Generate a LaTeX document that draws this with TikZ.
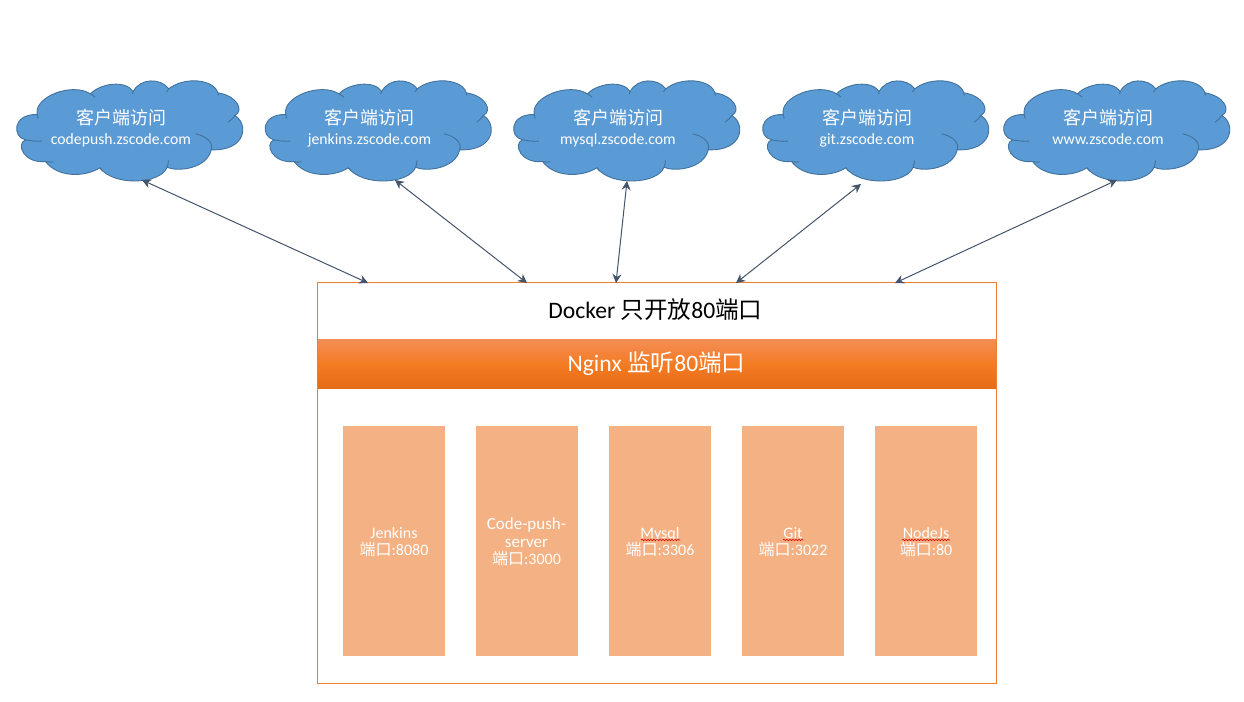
\documentclass[tikz,border=0pt]{standalone}
\usepackage{fontspec}
\usetikzlibrary{arrows.meta,decorations.pathmorphing}
\setmainfont{Carlito}
\newfontfamily\cjk{Noto Sans CJK SC}
\definecolor{cloudfill}{HTML}{5B9BD5}
\definecolor{cloudline}{HTML}{41719C}
\definecolor{linkcol}{HTML}{44546A}
\definecolor{framecol}{HTML}{ED7D31}
\definecolor{boxcol}{HTML}{F4B183}
\definecolor{bandtop}{HTML}{F48D55}
\definecolor{bandmid}{HTML}{F47B22}
\definecolor{bandbot}{HTML}{E46C17}
\tikzset{
  cloudshape/.style={fill=cloudfill,draw=cloudline,line width=.9pt,line join=round},
  cloudinner/.style={draw=cloudline,line width=.9pt},
  cloudtext/.style={text=white,inner sep=0pt,align=center,font=\fontsize{15.7}{18}\selectfont},
  link/.style={draw=linkcol,line width=1pt,{Stealth[length=9pt,width=9pt]}-{Stealth[length=9pt,width=9pt]}},
  frame/.style={fill=white,minimum width=678.6pt,minimum height=400.6pt,inner sep=0pt,anchor=north west},
  frameline/.style={draw=framecol,line width=.8pt},
  headtext/.style={inner sep=0pt,font=\fontsize{23.6}{28}\selectfont},
  band/.style={minimum width=678.6pt,minimum height=49pt,inner sep=0pt,anchor=north west,
    top color=bandtop,bottom color=bandbot,middle color=bandmid},
  portbox/.style={fill=boxcol,minimum width=102pt,minimum height=230pt,inner sep=0pt,anchor=north west},
  boxtext/.style={text=white,inner sep=0pt,align=center,font=\fontsize{16}{17.6}\selectfont},
  squiggle/.style={draw=red!85!black,line width=.6pt,decorate,decoration={snake,amplitude=.7pt,segment length=3pt}}
}
\newcommand{\cloudat}[3]{%
  \begin{scope}[shift={(#1,0)}]
    \begin{scope}[shift={(0.5,60.5)},x=0.3333pt,y=-0.3333pt]
      \draw[cloudshape] (110,162)
        .. controls (100,108) and (215,65) .. (270,100)
        .. controls (300,68) and (375,58) .. (398,93)
        .. controls (420,52) and (480,52) .. (505,85)
        .. controls (550,48) and (640,55) .. (652,97)
        .. controls (708,105) and (733,150) .. (703,165)
        .. controls (745,190) and (738,272) .. (632,268)
        .. controls (620,325) and (530,335) .. (500,320)
        .. controls (480,372) and (340,378) .. (298,322)
        .. controls (250,352) and (170,350) .. (135,303)
        .. controls (70,310) and (45,250) .. (75,238)
        .. controls (35,230) and (35,160) .. (110,162) -- cycle;
      \draw[cloudinner] (110,162) .. controls (110,166) and (111,170) .. (113,174);
      \draw[cloudinner] (75,238) .. controls (90,241) and (108,243) .. (124,242);
      \draw[cloudinner] (135,303) .. controls (142,305) and (150,306) .. (158,304);
      \draw[cloudinner] (298,322) .. controls (301,326) and (303,328) .. (306,331);
      \draw[cloudinner] (500,320) .. controls (502,313) and (504,307) .. (504,300);
      \draw[cloudinner] (585,220) .. controls (615,226) and (640,245) .. (632,268);
      \draw[cloudinner] (703,165) .. controls (698,172) and (692,180) .. (683,185);
      \draw[cloudinner] (652,97) .. controls (653,100) and (654,102) .. (654,105);
      \draw[cloudinner] (505,85) .. controls (502,88) and (500,90) .. (498,94);
      \draw[cloudinner] (398,93) .. controls (397,95) and (396,98) .. (396,101);
      \draw[cloudinner] (270,100) .. controls (275,103) and (280,106) .. (284,110);
    \end{scope}
    \node[cloudtext,font=\fontsize{18}{20}\selectfont\cjk] (#2a) at (121,118) {客户端访问};
    \node[cloudtext,anchor=base] (#2b) at (121,144) {#3};
  \end{scope}}
\begin{document}
\begin{tikzpicture}[x=1pt,y=-1pt]
  \useasboundingbox (0,0) rectangle (1244,701);
  \node[frame] (frameBox) at (317.5,282.5) {};
  \node[headtext] (dockerT) at (655.5,310) {Docker {\cjk 只开放}80{\cjk 端口}};
  \node[band] (nginxB) at (317.5,339.5) {};
  \node[headtext,text=white] (nginxT) at (656.5,364) {Nginx {\cjk 监听}80{\cjk 端口}};
  \draw[frameline] (frameBox.north west) rectangle (frameBox.south east);
  \node[portbox] (p1) at (343,426) {};
  \node[portbox] (p2) at (476,426) {};
  \node[portbox] (p3) at (609,426) {};
  \node[portbox] (p4) at (742,426) {};
  \node[portbox] (p5) at (875,426) {};
  \node[boxtext] (t1) at (394,542) {Jenkins\\{\cjk 端口}:8080};
  \node[boxtext] (t2) at (526.5,542) {{\fontsize{17}{17.6}\selectfont Code-push-}\\{\fontsize{17}{17.6}\selectfont server}\\{\cjk 端口}:3000};
  \node[boxtext] (t3) at (660,542) {Mysql\\{\cjk 端口}:3306};
  \node[boxtext] (t4) at (793,542) {Git\\{\cjk 端口}:3022};
  \node[boxtext] (t5) at (926,542) {NodeJs\\{\cjk 端口}:80};
  \coordinate (s3a) at (641,540); \coordinate (s3b) at (680,540);
  \coordinate (s4a) at (783,540); \coordinate (s4b) at (803,540);
  \coordinate (s5a) at (902,540); \coordinate (s5b) at (950,540);
  \draw[squiggle] (s3a) -- (s3b);
  \draw[squiggle] (s4a) -- (s4b);
  \draw[squiggle] (s5a) -- (s5b);
  \cloudat{0}{c1}{codepush.zscode.com}
  \cloudat{248.5}{c2}{jenkins.zscode.com}
  \cloudat{497}{c3}{mysql.zscode.com}
  \cloudat{746}{c4}{git.zscode.com}
  \cloudat{987}{c5}{www.zscode.com}
  \coordinate (a1) at (142,180); \coordinate (b1) at (368,283);
  \coordinate (a2) at (395,180); \coordinate (b2) at (527,283);
  \coordinate (a3) at (627,181); \coordinate (b3) at (616,283);
  \coordinate (a4) at (861,184); \coordinate (b4) at (736,283);
  \coordinate (a5) at (1117,180); \coordinate (b5) at (895,283);
  \draw[link] (a1) -- (b1);
  \draw[link] (a2) -- (b2);
  \draw[link] (a3) -- (b3);
  \draw[link] (a4) -- (b4);
  \draw[link] (a5) -- (b5);
\end{tikzpicture}
\end{document}
